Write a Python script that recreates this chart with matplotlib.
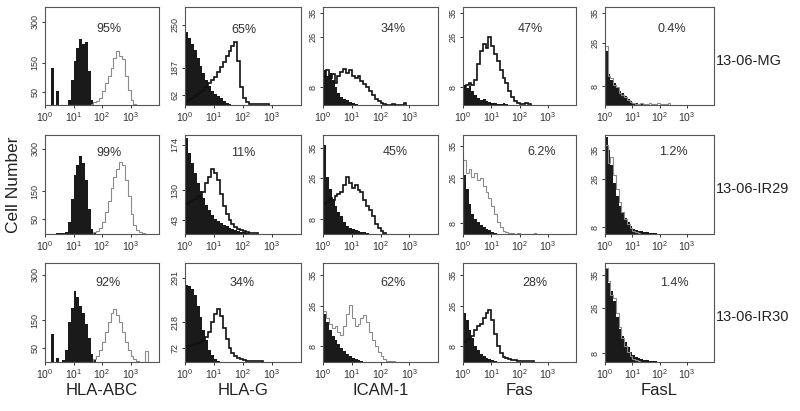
import numpy as np
import matplotlib
matplotlib.use("Agg")
import matplotlib.pyplot as plt

plt.rcParams['font.family'] = ['Liberation Sans', 'DejaVu Sans']
plt.rcParams['mathtext.fontset'] = 'custom'
plt.rcParams['mathtext.rm'] = 'Liberation Sans'

# --- labels ---
markers = ["HLA-ABC", "HLA-G", "ICAM-1", "Fas", "FasL"]
cell_lines = ["13-06-MG", "13-06-IR29", "13-06-IR30"]
percents = [["95%", "65%", "34%", "47%", "0.4%"],
            ["99%", "11%", "45%", "6.2%", "1.2%"],
            ["92%", "34%", "62%", "28%", "1.4%"]]
ytick_text = [[["300", "150", "50"], ["250", "187", "62"], ["35", "26", "8"], ["35", "26", "8"], ["35", "26", "8"]],
              [["300", "150", "50"], ["174", "130", "43"], ["35", "26", "8"], ["35", "26", "8"], ["35", "26", "8"]],
              [["300", "150", "50"], ["291", "218", "72"], ["35", "26", "8"], ["35", "26", "8"], ["35", "26", "8"]]]
xtick_vals = [1, 10, 100, 1000]
xtick_text = [r"$\mathregular{10^0}$", r"$\mathregular{10^1}$", r"$\mathregular{10^2}$", r"$\mathregular{10^3}$"]

# --- histogram heights (fraction of panel height), bins of 0.1 decade from 10^0 ---
mg_abc_ctrl = [0, 0, 0.38, 0, 0.14, 0, 0, 0, 0.05, 0.25, 0.45, 0.58, 0.67, 0.62, 0.64, 0.35, 0.05]
mg_abc_stain = [0, 0, 0, 0, 0, 0, 0, 0, 0, 0, 0, 0, 0, 0, 0, 0, 0.01, 0.03, 0.04, 0.07, 0.14, 0.22,
                0.30, 0.38, 0.48, 0.55, 0.50, 0.47, 0.30, 0.15, 0.05, 0.01]
mg_g_ctrl = [0.74, 0.68, 0.62, 0.56, 0.48, 0.40, 0.33, 0.25, 0.19, 0.14, 0.11, 0.09, 0.07, 0.04, 0.02, 0.01]
mg_g_stain = [0.03, 0.05, 0.07, 0.09, 0.11, 0.13, 0.15, 0.18, 0.22, 0.26, 0.29, 0.34, 0.39, 0.44, 0.50,
              0.55, 0.60, 0.64, 0.45, 0.18, 0.07, 0.03, 0.015, 0.015, 0.01, 0.015, 0.01, 0.01, 0.01]
mg_icam_ctrl = [0.36, 0.30, 0.33, 0.25, 0.18, 0.12, 0.08, 0.06, 0.05, 0.03, 0.02, 0.01]
mg_icam_stain = [0.30, 0.36, 0.28, 0.32, 0.22, 0.30, 0.34, 0.37, 0.33, 0.36, 0.30, 0.28, 0.30, 0.24,
                 0.21, 0.18, 0.14, 0.10, 0.06, 0.04, 0.02, 0.01, 0, 0, 0.01, 0, 0, 0, 0.02]
mg_fas_ctrl = [0.20, 0.17, 0.19, 0.14, 0.10, 0.07, 0.05, 0.06, 0.04, 0.03, 0.02, 0.02, 0.01, 0.01, 0.02, 0.01]
mg_fas_stain = [0.18, 0.20, 0.22, 0.20, 0.25, 0.42, 0.55, 0.62, 0.58, 0.69, 0.60, 0.52, 0.45, 0.36,
                0.28, 0.22, 0.14, 0.08, 0.04, 0.02, 0.01, 0.01, 0.02, 0.01]
mg_fasl_ctrl = [0.55, 0.32, 0.26, 0.22, 0.17, 0.14, 0.12, 0.09, 0.06, 0.04, 0.02, 0.02, 0.01, 0.01, 0.01]
mg_fasl_stain = [0.60, 0.30, 0.28, 0.20, 0.18, 0.12, 0.10, 0.08, 0.05, 0.03, 0.02, 0.01, 0.01, 0.02,
                 0.01, 0.01, 0.02, 0.01, 0.01, 0.02, 0.01, 0.01, 0.01, 0.02]

ir29_abc_ctrl = [0, 0, 0, 0, 0.01, 0.01, 0.01, 0.02, 0.12, 0.35, 0.60, 0.70, 0.79, 0.72, 0.55, 0.25, 0.05, 0.01]
ir29_abc_stain = [0, 0, 0, 0, 0, 0, 0, 0, 0, 0, 0, 0, 0, 0, 0, 0, 0, 0.02, 0.03, 0.06, 0.12, 0.22,
                  0.33, 0.46, 0.58, 0.66, 0.73, 0.70, 0.55, 0.38, 0.20, 0.09, 0.04, 0.02, 0.01]
ir29_g_ctrl = [0.97, 0.82, 0.72, 0.62, 0.52, 0.43, 0.36, 0.29, 0.24, 0.19, 0.15, 0.13, 0.11, 0.09,
               0.08, 0.06, 0.05, 0.04, 0.03, 0.02, 0.02, 0.01]
ir29_g_stain = [0.30, 0.32, 0.33, 0.35, 0.38, 0.36, 0.42, 0.52, 0.58, 0.66, 0.62, 0.55, 0.40, 0.28,
                0.20, 0.14, 0.10, 0.07, 0.05, 0.04, 0.03, 0.02, 0.01, 0.01, 0.01]
ir29_icam_ctrl = [0.90, 0.58, 0.45, 0.35, 0.28, 0.22, 0.18, 0.12, 0.08, 0.06, 0.05, 0.04, 0.03, 0.02, 0.02, 0.01]
ir29_icam_stain = [0.30, 0.32, 0.36, 0.34, 0.38, 0.40, 0.42, 0.50, 0.58, 0.52, 0.46, 0.50, 0.44, 0.42,
                   0.34, 0.28, 0.24, 0.18, 0.10, 0.06, 0.03, 0.01]
ir29_fas_ctrl = [0.60, 0.45, 0.30, 0.20, 0.15, 0.12, 0.09, 0.07, 0.05, 0.04, 0.02, 0.01]
ir29_fas_stain = [0.75, 0.62, 0.66, 0.58, 0.62, 0.55, 0.57, 0.48, 0.42, 0.36, 0.28, 0.20, 0.12, 0.07,
                  0.03, 0.02, 0.01, 0.01, 0, 0.01, 0, 0, 0, 0, 0, 0.01]
ir29_fasl_ctrl = [0.98, 0.85, 0.70, 0.52, 0.38, 0.28, 0.22, 0.16, 0.12, 0.08, 0.05, 0.04, 0.03, 0.03,
                  0.02, 0.02, 0.01, 0.01, 0.01]
ir29_fasl_stain = [0.90, 0.72, 0.78, 0.60, 0.45, 0.32, 0.22, 0.15, 0.10, 0.06, 0.03, 0.02, 0.01]

ir30_abc_ctrl = [0, 0, 0.28, 0, 0.04, 0, 0.02, 0.12, 0.40, 0.55, 0.72, 0.66, 0.57, 0.50, 0.38, 0.24, 0.08, 0.02]
ir30_abc_stain = [0, 0, 0, 0, 0, 0, 0, 0, 0, 0, 0, 0, 0, 0, 0, 0, 0, 0.03, 0.06, 0.12, 0.20, 0.30,
                  0.40, 0.50, 0.54, 0.47, 0.40, 0.30, 0.20, 0.12, 0.06, 0.03, 0.01, 0, 0, 0.11]
ir30_g_ctrl = [0.78, 0.77, 0.74, 0.68, 0.57, 0.45, 0.32, 0.22, 0.12, 0.07, 0.03, 0.01]
ir30_g_stain = [0.15, 0.16, 0.17, 0.18, 0.19, 0.20, 0.22, 0.25, 0.30, 0.40, 0.48, 0.54, 0.46, 0.34,
                0.23, 0.14, 0.09, 0.06, 0.04, 0.03, 0.02, 0.01, 0.01, 0.01, 0.01, 0.01, 0.01]
ir30_icam_ctrl = [0.48, 0.40, 0.32, 0.26, 0.22, 0.18, 0.14, 0.11, 0.08, 0.06, 0.04, 0.03, 0.02, 0.01]
ir30_icam_stain = [0.52, 0.44, 0.38, 0.34, 0.36, 0.30, 0.27, 0.36, 0.48, 0.58, 0.44, 0.36, 0.38, 0.44,
                   0.47, 0.40, 0.30, 0.22, 0.16, 0.10, 0.06, 0.03, 0.01, 0.01, 0.01]
ir30_fas_ctrl = [0.50, 0.42, 0.32, 0.24, 0.16, 0.12, 0.08, 0.06, 0.04, 0.03, 0.02, 0.01]
ir30_fas_stain = [0.20, 0.22, 0.24, 0.26, 0.32, 0.36, 0.38, 0.44, 0.50, 0.53, 0.42, 0.28, 0.16, 0.09,
                  0.05, 0.04, 0.03, 0.02, 0.02, 0.01, 0.01, 0.01, 0.01, 0.01, 0.01]
ir30_fasl_ctrl = [0.94, 0.80, 0.72, 0.62, 0.45, 0.33, 0.26, 0.20, 0.15, 0.10, 0.07, 0.05, 0.04, 0.03,
                  0.02, 0.02, 0.01, 0.01, 0.01]
ir30_fasl_stain = [0.95, 0.82, 0.68, 0.65, 0.50, 0.35, 0.24, 0.16, 0.10, 0.06, 0.03, 0.02, 0.01]

controls = [[mg_abc_ctrl, mg_g_ctrl, mg_icam_ctrl, mg_fas_ctrl, mg_fasl_ctrl],
            [ir29_abc_ctrl, ir29_g_ctrl, ir29_icam_ctrl, ir29_fas_ctrl, ir29_fasl_ctrl],
            [ir30_abc_ctrl, ir30_g_ctrl, ir30_icam_ctrl, ir30_fas_ctrl, ir30_fasl_ctrl]]
stains = [[mg_abc_stain, mg_g_stain, mg_icam_stain, mg_fas_stain, mg_fasl_stain],
          [ir29_abc_stain, ir29_g_stain, ir29_icam_stain, ir29_fas_stain, ir29_fasl_stain],
          [ir30_abc_stain, ir30_g_stain, ir30_icam_stain, ir30_fas_stain, ir30_fasl_stain]]

# --- layout (pixels) ---
W, H = 800, 411
col_left = [45, 185, 323, 463, 605]
col_w = [114, 116, 115, 113, 109]
row_top = [7, 135, 263]
row_h = [98, 99, 99]
ytick_pos = [[[0.85, 0.43, 0.13], [0.82, 0.38, 0.10], [0.94, 0.69, 0.18], [0.94, 0.69, 0.18], [0.94, 0.63, 0.19]],
             [[0.86, 0.43, 0.15], [0.90, 0.44, 0.14], [0.87, 0.57, 0.15], [0.89, 0.57, 0.11], [0.85, 0.56, 0.07]],
             [[0.88, 0.42, 0.14], [0.85, 0.40, 0.14], [0.88, 0.57, 0.16], [0.88, 0.57, 0.16], [0.88, 0.55, 0.09]]]
pct_pos = [[(0.56, 0.78), (0.51, 0.77), (0.61, 0.78), (0.60, 0.78), (0.61, 0.78)],
           [(0.56, 0.82), (0.50, 0.82), (0.63, 0.83), (0.70, 0.83), (0.63, 0.83)],
           [(0.55, 0.80), (0.49, 0.80), (0.61, 0.80), (0.64, 0.80), (0.64, 0.80)]]
stain_color = [["#8a8a8a", "#111111", "#111111", "#111111", "#8a8a8a"],
               ["#8a8a8a", "#111111", "#111111", "#8a8a8a", "#8a8a8a"],
               ["#8a8a8a", "#111111", "#8a8a8a", "#111111", "#8a8a8a"]]

fig = plt.figure(figsize=(W / 100, H / 100), dpi=100)

for r in range(3):
    for c in range(5):
        ax = fig.add_axes([col_left[c] / W, (H - row_top[r] - row_h[r]) / H, col_w[c] / W, row_h[r] / H])
        ctrl = controls[r][c]
        st = stains[r][c]
        e1 = 10 ** (np.arange(len(ctrl) + 1) * 0.1)
        e2 = 10 ** (np.arange(len(st) + 1) * 0.1)
        ax.stairs(ctrl, e1, fill=True, color="#1a1a1a", lw=0)
        gray = stain_color[r][c] != "#111111"
        ax.stairs(st, e2, color=stain_color[r][c], lw=0.8 if gray else 1.2)
        ax.set_xscale("log")
        ax.set_xlim(1, 1e4)
        ax.set_ylim(0, 1)
        ax.minorticks_off()
        ax.set_xticks(xtick_vals)
        ax.set_xticklabels(xtick_text, fontsize=7.5)
        ax.set_yticks(ytick_pos[r][c])
        ax.set_yticklabels(ytick_text[r][c], fontsize=6.5, rotation=90, va="center")
        ax.tick_params(direction="out", length=2.5, width=0.7, pad=1.5, colors="#333333")
        for sp in ax.spines.values():
            sp.set_color("#555555")
            sp.set_linewidth(0.8)
        px, py = pct_pos[r][c]
        ax.text(px, py, percents[r][c], transform=ax.transAxes, ha="center", va="center",
                fontsize=9, color="#333333")

for r, name in enumerate(cell_lines):
    y = row_top[r] + row_h[r] * 0.55
    fig.text(716 / W, 1 - y / H, name, ha="left", va="center", fontsize=10.5, color="#222222")

for c, name in enumerate(markers):
    x = col_left[c] + col_w[c] / 2
    fig.text(x / W, 1 - 390 / H, name, ha="center", va="center", fontsize=12, color="#222222")

fig.text(14 / W, 1 - 185 / H, "Cell Number", rotation=90, ha="center", va="center",
         fontsize=12.5, color="#222222")

fig.savefig("out.png", dpi=100)
